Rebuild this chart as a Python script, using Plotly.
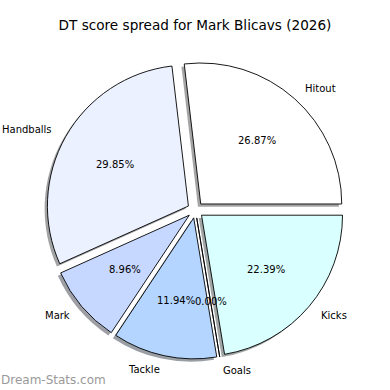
import math
import plotly.graph_objects as go

labels = ["Hitout", "Handballs", "Mark", "Tackle", "Goals", "Kicks"]
values = [18, 20, 6, 8, 0, 15]
colors = ["#ffffff", "#ebf1ff", "#c6d8ff", "#b3d5ff", "#d0e0ff", "#d9ffff"]
title_text = "DT score spread for Mark Blicavs (2026)"
watermark = "Dream-Stats.com"

W = H = 390
cx, cy = 195.4, 210.0      # pie centre, px
R = 141.0                  # radius, px
pull = 0.057               # explode fraction of radius
start_angle = 0            # degrees, counter-clockwise from 3 o'clock
label_dist = 1.1
pct_dist = 0.6
shadow_dx, shadow_dy = -2.8, 2.8
FONT = "DejaVu Sans"
pulls = [pull] * len(values)
total = sum(values)


def dom(r, dx=0.0, dy=0.0):
    half = r * (1 + pull)
    return dict(x=[(cx + dx - half) / W, (cx + dx + half) / W],
                y=[1 - (cy + dy + half) / H, 1 - (cy + dy - half) / H])


def shade(hexcol):
    h = hexcol.lstrip("#")
    r, g, b = (int(h[i:i + 2], 16) for i in (0, 2, 4))
    return f"rgba({int(r * 0.3)},{int(g * 0.3)},{int(b * 0.3)},0.5)"


# plotly's counter-clockwise mode ends the first slice at `rotation`,
# so rotate by the first slice's angle to make it start at start_angle
rotation = 90 - start_angle - 360 * values[0] / total
common = dict(labels=labels, values=values, sort=False, direction="counterclockwise",
              rotation=rotation, pull=pulls, hoverinfo="skip",
              showlegend=False, textinfo="none")

fig = go.Figure()
fig.add_trace(go.Pie(**common, domain=dom(R, shadow_dx, shadow_dy),
                     marker=dict(colors=[shade(c) for c in colors], line=dict(width=0))))
fig.add_trace(go.Pie(**common, domain=dom(R),
                     marker=dict(colors=colors, line=dict(color="black", width=0.9))))

# text positions derived from the values (matplotlib-style placement)
annotations = []
acc = 0.0
for lab, v in zip(labels, values):
    frac = v / total
    mid = math.radians(start_angle + 360 * (acc + frac / 2))
    acc += frac
    ex, ey = cx + pull * R * math.cos(mid), cy - pull * R * math.sin(mid)
    xt = ex + label_dist * R * math.cos(mid)
    yt = ey - label_dist * R * math.sin(mid)
    annotations.append(dict(x=xt, y=yt, xref="x", yref="y", text=lab, showarrow=False,
                            xanchor="left" if xt > cx else "right", yanchor="middle",
                            borderpad=0,
                            font=dict(family=FONT, size=10, color="black")))
    annotations.append(dict(x=ex + pct_dist * R * math.cos(mid),
                            y=ey - pct_dist * R * math.sin(mid), xref="x", yref="y",
                            text=f"{100 * frac:.2f}%", showarrow=False,
                            xanchor="center", yanchor="middle", borderpad=0,
                            font=dict(family=FONT, size=10, color="black")))

annotations.append(dict(text=watermark, x=0, y=1 - 380 / H, xref="paper", yref="paper",
                        xanchor="left", yanchor="middle", showarrow=False, borderpad=0,
                        font=dict(family=FONT, size=12, color="#9a9a9a")))

fig.update_layout(
    width=W, height=H, margin=dict(l=0, r=0, t=0, b=0),
    paper_bgcolor="white", plot_bgcolor="rgba(0,0,0,0)",
    xaxis=dict(range=[0, W], visible=False, fixedrange=True),
    yaxis=dict(range=[H, 0], visible=False, fixedrange=True),
    title=dict(text=title_text, x=0.5, xanchor="center", y=1 - 25 / H, yanchor="middle",
               font=dict(family=FONT, size=13.6, color="black")),
    annotations=annotations,
)
fig.write_html("out.html", post_script="document.body.style.margin='0';",
               config={"displayModeBar": False, "staticPlot": True})
